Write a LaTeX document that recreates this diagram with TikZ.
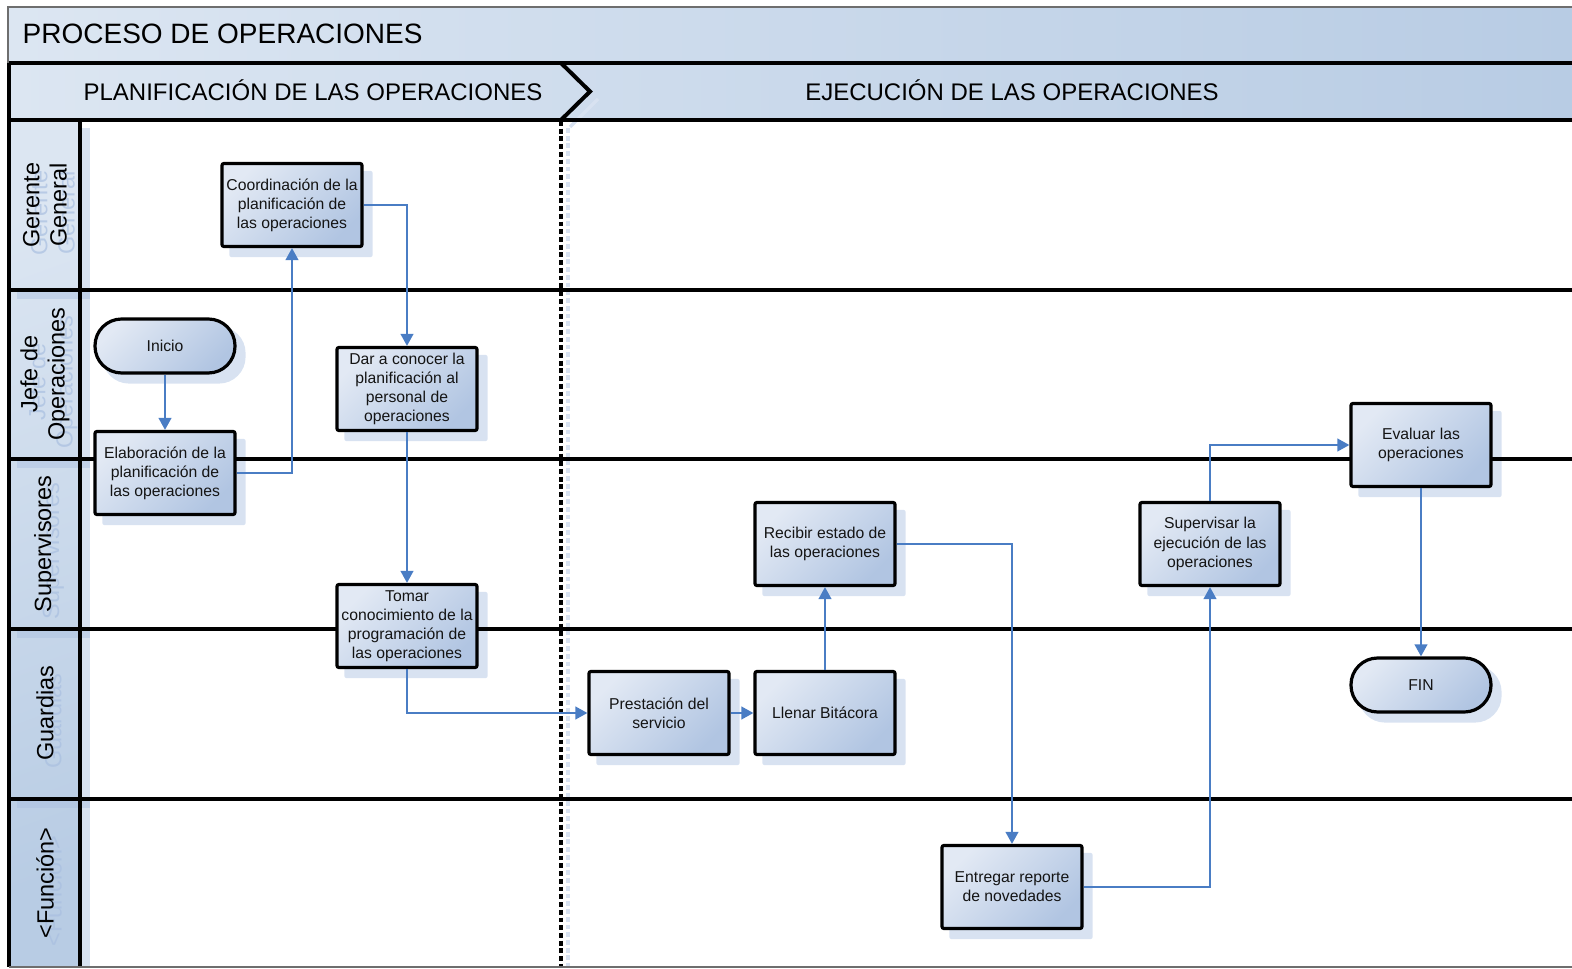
\documentclass[tikz,border=0pt]{standalone}
\usepackage{fontspec}
\setmainfont{Liberation Sans}
\usetikzlibrary{arrows.meta}

\definecolor{boxlight}{HTML}{E2E9F4}
\definecolor{boxdark}{HTML}{B1C5E2}
\definecolor{hdrlight}{HTML}{DCE6F2}
\definecolor{hdrdark}{HTML}{B8CCE4}
\definecolor{shadowc}{HTML}{D8E2F1}
\definecolor{ghostc}{HTML}{A9BFE0}
\definecolor{flowblue}{HTML}{4A7DC4}
\definecolor{framegray}{HTML}{6E6E6E}

\newcommand\bxfont{\fontsize{11.8}{14.3}\selectfont}
\newcommand\lnfont{\fontsize{17.6}{20.5}\selectfont}
\newcommand\phfont{\fontsize{18}{20}\selectfont}
\newcommand\ttlfont{\fontsize{21}{24}\selectfont}

\pgfdeclarelayer{shadowlayer}
\pgfdeclarelayer{framelayer}
\pgfsetlayers{shadowlayer,framelayer,main}

\tikzset{
  box/.style={draw=black, line width=2.4pt, rounded corners=1.5pt,
    top color=boxlight, bottom color=boxdark, shading angle=45,
    minimum width=105pt, minimum height=62.25pt, inner sep=1pt,
    align=center, font=\bxfont, text=black!92},
  term/.style={box, rounded corners=20pt, minimum height=40.5pt},
  flow/.style={draw=flowblue, line width=1.5pt,
    -{Triangle[length=9pt,width=9.5pt]}},
  laneline/.style={draw=black, line width=3pt},
  lanelabel/.style={rotate=90, align=center, font=\lnfont, text=black},
  laneghost/.style={lanelabel, text=ghostc, text opacity=0.7},
  phaselabel/.style={font=\phfont, text=black},
  sepline/.style={line width=2.3pt, dash pattern=on 3.6pt off 2.2pt},
}

\begin{document}
\begin{tikzpicture}[x=0.75pt,y=-0.75pt]
\useasboundingbox (0,0) rectangle (1572,969);

% ---------- process steps ----------
\node[box]  (coord)    at (292,205)  {Coordinación de la\\planificación de\\las operaciones};
\node[term] (inicio)   at (165,346)  {Inicio};
\node[box]  (elab)     at (165,473)  {Elaboración de la\\planificación de\\las operaciones};
\node[box]  (dar)      at (407,389)  {Dar a conocer la\\planificación al\\personal de\\operaciones};
\node[box]  (tomar)    at (407,626)  {Tomar\\conocimiento de la\\programación de\\las operaciones};
\node[box]  (prest)    at (659,713)  {Prestación del\\servicio};
\node[box]  (llenar)   at (825,713)  {Llenar Bitácora};
\node[box]  (recibir)  at (825,544)  {Recibir estado de\\las operaciones};
\node[box]  (entregar) at (1012,887) {Entregar reporte\\de novedades};
\node[box]  (superv)   at (1210,544) {Supervisar la\\ejecución de las\\operaciones};
\node[box]  (evaluar)  at (1421,445) {Evaluar las\\operaciones};
\node[term] (fin)      at (1421,685) {FIN};

% ---------- connectors ----------
\draw[flow] (inicio) -- (elab);
\draw[flow] (elab.east) -| (coord.south);
\draw[flow] (coord.east) -| (dar.north);
\draw[flow] (dar) -- (tomar);
\draw[flow] (tomar.south) |- (prest.west);
\draw[flow] (prest) -- (llenar);
\draw[flow] (llenar) -- (recibir);
\draw[flow] (recibir.east) -| (entregar.north);
\draw[flow] (entregar.east) -| (superv.south);
\draw[flow] (superv.north) |- (evaluar.west);
\draw[flow] (evaluar) -- (fin);

% ---------- soft shadows behind the steps ----------
\begin{pgfonlayer}{shadowlayer}
  \foreach \n in {coord,elab,dar,tomar,prest,llenar,recibir,entregar,superv,evaluar}
    \fill[shadowc, rounded corners=1.5pt]
      ([shift={(9,9)}]\n.south west) rectangle ([shift={(9,9)}]\n.north east);
  \foreach \n in {inicio,fin}
    \fill[shadowc, rounded corners=20pt]
      ([shift={(9,9)}]\n.south west) rectangle ([shift={(9,9)}]\n.north east);
\end{pgfonlayer}

% ---------- pool, phases and lanes ----------
\begin{pgfonlayer}{framelayer}
  % title bar
  \shade[left color=hdrlight, right color=hdrdark] (8,7) rectangle (1572,63);
  \draw[framegray, line width=0.8pt] (8,63) -- (8,7) -- (1572,7);
  \node[anchor=west, font=\ttlfont] (title) at (18,34) {PROCESO DE OPERACIONES};

  % phase header
  \shade[left color=hdrlight, right color=hdrdark] (9,63) rectangle (1572,120);
  \draw[shadowc, line width=2.5pt] (598,99) -- (570,127);
  \draw[black, line width=3pt] (561,63) -- (590,91.5) -- (561,120);
  \node[phaselabel] (ph1) at (313,90) {PLANIFICACIÓN DE LAS OPERACIONES};
  \node[phaselabel] (ph2) at (1012,90) {EJECUCIÓN DE LAS OPERACIONES};

  % lane label column
  \shade[top color=hdrlight, bottom color=hdrdark, shading angle=20] (9,120) rectangle (80,967);
  \fill[shadowc] (82,128) rectangle (90,967);
  \foreach \yy in {290,459,629,799}
    \fill[ghostc, opacity=0.45] (17,\yy+2) rectangle (90,\yy+9);

  % faint ghost copies of the lane names
  \node[laneghost] (gA) at (53,213) {Gerente\\General};
  \node[laneghost] (gB) at (53,382) {Jefe de\\Operaciones};
  \node[laneghost] (gC) at (53,551) {Supervisores};
  \node[laneghost] (gD) at (53,721) {Guardias};
  \node[laneghost] (gE) at (53,891) {<Función>};

  \node[lanelabel] (lnA) at (45,205) {Gerente\\General};
  \node[lanelabel] (lnB) at (45,374) {Jefe de\\Operaciones};
  \node[lanelabel] (lnC) at (45,544) {Supervisores};
  \node[lanelabel] (lnD) at (45,713) {Guardias};
  \node[lanelabel] (lnE) at (45,883) {<Función>};

  % phase separator
  \draw[sepline, shadowc] (568,128) -- (568,967);
  \draw[sepline, black] (561,121) -- (561,967);

  % lane boundaries
  \foreach \yy in {63,120,290,459,629,799}
    \draw[laneline] (9,\yy) -- (1572,\yy);
  \draw[laneline] (9,63) -- (9,967);
  \draw[laneline] (80,120) -- (80,967);
  \draw[framegray, line width=0.8pt] (9,967) -- (1572,967);
\end{pgfonlayer}
\end{tikzpicture}
\end{document}
